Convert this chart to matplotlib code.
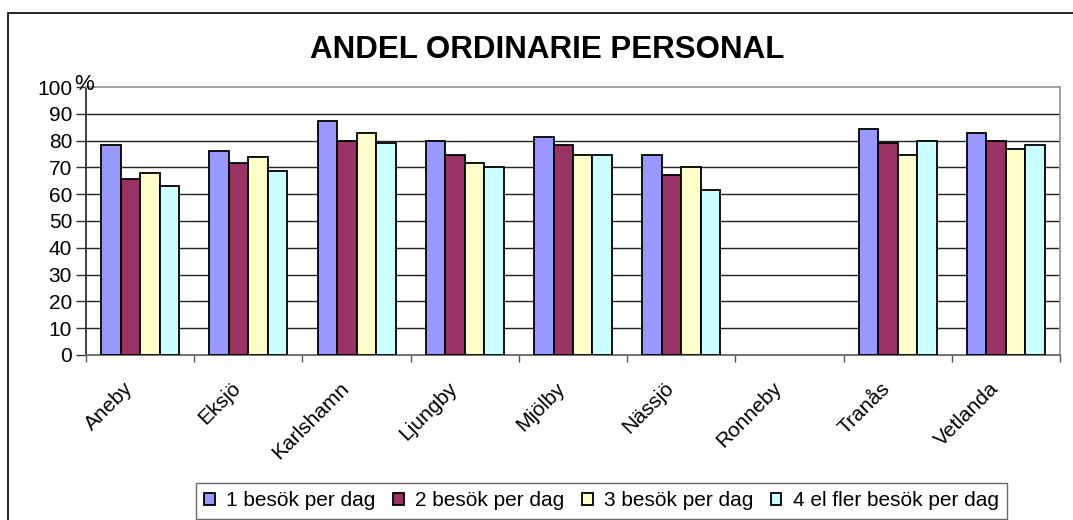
import numpy as np
import matplotlib
matplotlib.use("Agg")
import matplotlib.pyplot as plt
from matplotlib.patches import Rectangle
from matplotlib.transforms import ScaledTranslation

categories = ["Aneby", "Eksjö", "Karlshamn", "Ljungby", "Mjölby", "Nässjö", "Ronneby", "Tranås", "Vetlanda"]
series_names = ["1 besök per dag", "2 besök per dag", "3 besök per dag", "4 el fler besök per dag"]
s1 = [78.4, 76.2, 87.2, 80.0, 81.4, 74.6, np.nan, 84.2, 82.9]
s2 = [65.8, 71.5, 80.0, 74.7, 78.5, 67.3, np.nan, 79.2, 80.0]
s3 = [67.9, 73.8, 83.0, 71.5, 74.6, 70.0, np.nan, 74.6, 76.8]
s4 = [63.0, 68.6, 79.2, 70.1, 74.6, 61.4, np.nan, 80.0, 78.4]
yticks = [0, 10, 20, 30, 40, 50, 60, 70, 80, 90, 100]
title = "ANDEL ORDINARIE PERSONAL"
colors = ["#9999FF", "#993366", "#FFFFCC", "#CCFFFF"]

plt.rcParams['font.family'] = ['Liberation Sans', 'DejaVu Sans']

W, H = 1073, 520
fig = plt.figure(figsize=(W / 100, H / 100), dpi=100)
fig.patch.set_facecolor("white")

# chart area border
fig.patches.append(Rectangle((8 / W, -0.2), 1.2, 1.2 - 13 / H, transform=fig.transFigure,
                             fill=False, edgecolor="black", linewidth=1.2, zorder=0))

left, right, top, bottom = 86, 1060, 87, 355
ax = fig.add_axes([left / W, 1 - bottom / H, (right - left) / W, (bottom - top) / H])

n = len(categories)
x = np.arange(n)
bw = 0.18
for i, vals in enumerate([s1, s2, s3, s4]):
    ax.bar(x + (i - 1.5) * bw, vals, width=bw, color=colors[i], edgecolor="black",
           linewidth=1.3, label=series_names[i], zorder=3)

ax.set_xlim(-0.5, n - 0.5)
ax.set_ylim(0, 100)
ax.set_yticks(yticks)
ax.set_yticklabels([str(t) for t in yticks], fontsize=15)
for t in yticks[1:-1]:
    ax.axhline(t, color="#222222", linewidth=1.0, zorder=1)

ax.set_xticks(np.arange(n + 1) - 0.5, minor=False)
ax.set_xticklabels([""] * (n + 1))
ax.set_xticks(x, minor=True)
ax.set_xticklabels(categories, minor=True, rotation=45, ha="right", va="top",
                   rotation_mode="anchor", fontsize=15)
ax.tick_params(axis="x", which="minor", length=0, pad=17)
ax.tick_params(axis="x", which="major", length=5, width=1, color="#555555", direction="out")
ax.tick_params(axis="y", length=7, width=1, color="#333333", direction="out", pad=3)
shift = ScaledTranslation(-17 / 100, 0, fig.dpi_scale_trans)
for lab in ax.get_xticklabels(minor=True):
    lab.set_transform(lab.get_transform() + shift)

ax.spines["left"].set_color("#333333")
ax.spines["bottom"].set_color("#666666")
ax.spines["top"].set_color("#999999")
ax.spines["right"].set_color("#999999")
for s in ax.spines.values():
    s.set_linewidth(1.3)

fig.text(84 / W, 1 - 85 / H, "%", fontsize=16, ha="center", va="center")

fig.text(547 / W, 1 - 50 / H, title, fontsize=22.5, fontweight="bold", ha="center", va="center")

leg = fig.legend(loc="upper left", bbox_to_anchor=(196 / W, 1 - 483 / H), ncol=4,
                 fontsize=15, frameon=True, fancybox=False, edgecolor="#444444",
                 handlelength=0.5, handleheight=0.5, handletextpad=0.55, columnspacing=0.85,
                 borderpad=0.4, borderaxespad=0)
leg.get_frame().set_linewidth(1.0)

fig.savefig("out.png", dpi=100, facecolor="white")
